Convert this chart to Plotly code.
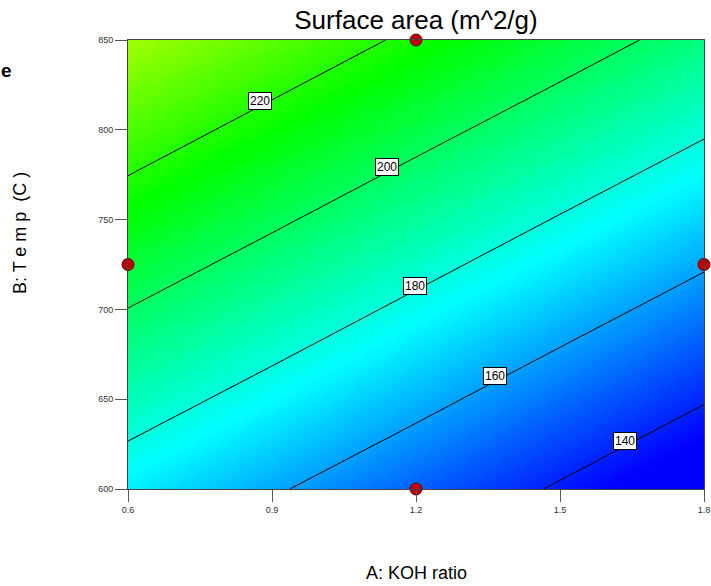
import numpy as np
import plotly.graph_objects as go

# ---- data ----
koh_ratio = [0.6, 0.9, 1.2, 1.5, 1.8]              # A: KOH ratio
temp_c = [600, 650, 700, 750, 800, 850]             # B: Temp (C)
surface_area = [                                     # rows = temp, cols = KOH ratio
    [172.8, 161.4, 150.1, 138.7, 127.3],
    [186.3, 175.0, 163.6, 152.2, 140.8],
    [199.8, 188.5, 177.1, 165.7, 154.4],
    [213.4, 202.0, 190.6, 179.2, 167.9],
    [226.9, 215.5, 204.1, 192.8, 181.4],
    [240.4, 229.0, 217.6, 206.3, 194.9],
]
contour_levels = [140, 160, 180, 200, 220]
label_koh = [1.636, 1.365, 1.198, 1.140, 0.876]     # where each contour label sits
design_koh = [1.2, 0.6, 1.8, 1.2]
design_temp = [850, 725, 725, 600]
x_ticks = [0.6, 0.9, 1.2, 1.5, 1.8]
y_ticks = [600, 650, 700, 750, 800, 850]

FONT = "Liberation Sans, Arial, sans-serif"
W, H = 711, 586
ML, MR, MT, MB = 128, 7, 40, 97
PW, PH = W - ML - MR, H - MT - MB

fig = go.Figure()
fig.add_trace(go.Contour(
    x=koh_ratio, y=temp_c, z=surface_area,
    zmin=135, zmax=295,
    colorscale=[[0, "rgb(0,0,255)"], [0.25, "rgb(0,255,255)"], [0.5, "rgb(0,255,0)"],
                [0.75, "rgb(255,255,0)"], [1, "rgb(255,0,0)"]],
    contours=dict(start=contour_levels[0], end=contour_levels[-1],
                  size=contour_levels[1] - contour_levels[0], coloring="heatmap"),
    line=dict(color="black", width=1),
    showscale=False, hoverinfo="skip",
))
fig.add_trace(go.Scatter(
    x=design_koh, y=design_temp, mode="markers", cliponaxis=False,
    marker=dict(size=12, color="#c00000", line=dict(color="#5a0000", width=1)),
    showlegend=False, hoverinfo="skip",
))

# contour labels positioned from the grid by interpolation
z = np.array(surface_area)
annotations = []
for lev, a in zip(contour_levels, label_koh):
    col = np.array([np.interp(a, koh_ratio, row) for row in z])
    t = float(np.interp(lev, col, temp_c))
    annotations.append(dict(
        x=a, y=t, xref="x", yref="y", text=str(lev), showarrow=False, yshift=5,
        font=dict(family=FONT, size=12, color="black"),
        bgcolor="white", bordercolor="black", borderwidth=1, borderpad=1,
    ))

annotations += [
    dict(text="A: KOH ratio", xref="paper", yref="paper", x=0.5, y=-(573 - MT - PH) / PH,
         xanchor="center", yanchor="middle", showarrow=False,
         font=dict(family=FONT, size=18, color="black")),
    dict(text="B: T e m p  (C )", xref="paper", yref="paper", x=(20 - ML) / PW,
         y=1 - (233 - MT) / PH,
         xanchor="center", yanchor="middle", showarrow=False, textangle=-90,
         font=dict(family=FONT, size=18, color="black")),
    dict(text="<b>e</b>", xref="paper", yref="paper", x=(-1 - ML) / PW,
         y=1 - (70 - MT) / PH,
         xanchor="left", yanchor="middle", showarrow=False,
         font=dict(family=FONT, size=19, color="black")),
]

axis_common = dict(
    showgrid=False, zeroline=False, ticks="outside", ticklen=12, tickcolor="#555",
    tickwidth=1, showline=True, linecolor="#444", linewidth=1, mirror=True,
    automargin=False,
    tickfont=dict(family=FONT, size=9, color="#333"),
)
fig.update_layout(
    width=W, height=H,
    margin=dict(l=ML, r=MR, t=MT, b=MB, autoexpand=False),
    paper_bgcolor="white", plot_bgcolor="white",
    title=dict(text="Surface area (m^2/g)", x=0.5, xref="paper", xanchor="center",
               y=1 - 20 / H, yref="container", yanchor="middle",
               font=dict(family=FONT, size=26, color="black")),
    xaxis=dict(range=[0.6, 1.8], tickvals=x_ticks,
               ticktext=[f"{v:.1f}" for v in x_ticks], **axis_common),
    yaxis=dict(range=[600, 850], tickvals=y_ticks,
               ticktext=[str(v) for v in y_ticks], **axis_common),
    annotations=annotations,
    showlegend=False,
)
fig.write_html("out.html")
